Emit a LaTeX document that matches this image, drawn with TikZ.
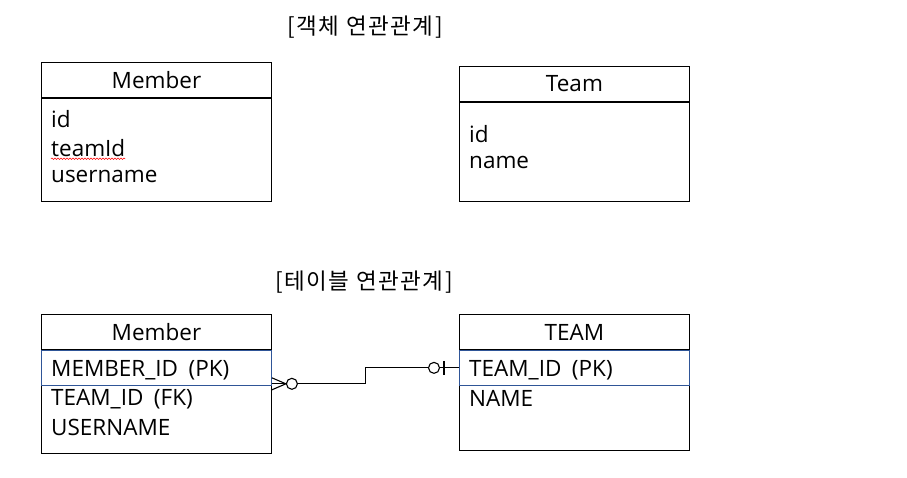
\documentclass[tikz,border=0pt]{standalone}
\usepackage{fontspec}
\setmainfont{Open Sans}[WordSpace=1.8]
\newfontfamily\krfont{Noto Sans CJK KR}[LetterSpace=7]
\usepackage{tikz}
\usetikzlibrary{positioning,calc,decorations.pathmorphing}

\definecolor{rowblue}{HTML}{2F5597}

\begin{document}
\begin{tikzpicture}[
    x=1pt, y=-1pt,
    node distance=0pt,
    head/.style={draw, line width=0.9pt, minimum width=230pt, minimum height=35pt, inner sep=0pt, font=\fontsize{22.5}{26}\selectfont},
    body/.style={draw, line width=0.9pt, minimum width=230pt, inner sep=0pt},
    pkrow/.style={draw=rowblue, line width=0.9pt, minimum width=230pt, minimum height=35pt, inner sep=0pt},
    field/.style={anchor=west, inner sep=0pt, font=\fontsize{22.5}{26}\selectfont},
    title/.style={inner sep=0pt, font=\krfont\fontsize{22.5}{26}\selectfont},
    rel/.style={line width=1.1pt}
  ]
    \useasboundingbox (0,0) rectangle (907,477);

    % object model
    \node[title] (objtitle) at (365,27) {[객체 연관관계]};
    \node[head, anchor=north west] (objmemberhead) at (41,62) {Member};
    \node[body, minimum height=103pt, below=of objmemberhead] (objmemberbody) {};
    \node[field] (objmemberid) at ([xshift=10pt,yshift=-21pt]objmemberbody.north west) {id};
    \node[field] (objmemberteam) at ([yshift=-29pt]objmemberid.west) {teamId};
    \node[field] (objmembername) at ([yshift=-29pt]objmemberteam.west) {username};
    \draw[red, line width=0.5pt, decorate, decoration={snake, segment length=3pt, amplitude=0.8pt}]
      ([yshift=-2pt]objmemberteam.south west) -- ([yshift=-2pt]objmemberteam.south east);

    \node[head, anchor=north west] (objteamhead) at (459,66) {Team};
    \node[body, minimum height=99pt, below=of objteamhead] (objteambody) {};
    \node[field] (objteamid) at ([xshift=10pt,yshift=-32pt]objteambody.north west) {id};
    \node[field] (objteamname) at ([yshift=-29pt]objteamid.west) {name};

    % table model
    \node[title] (tbltitle) at (364,282) {[테이블 연관관계]};
    \node[head, anchor=north west] (tblmemberhead) at (41,314) {Member};
    \node[body, minimum height=103pt, below=of tblmemberhead] (tblmemberbody) {};
    \node[pkrow, below=of tblmemberhead] (tblmemberpk) {};
    \node[field] (tblmemberid) at ([xshift=10pt,yshift=-2pt]tblmemberpk.west) {MEMBER\_ID (PK)};
    \node[field] (tblmemberteam) at ([yshift=-29pt]tblmemberid.west) {TEAM\_ID (FK)};
    \node[field] (tblmembername) at ([yshift=-29pt]tblmemberteam.west) {USERNAME};

    \node[head, anchor=north west] (tblteamhead) at (459,314) {TEAM};
    \node[body, minimum height=100pt, below=of tblteamhead] (tblteambody) {};
    \node[pkrow, below=of tblteamhead] (tblteampk) {};
    \node[field] (tblteamid) at ([xshift=10pt,yshift=-2pt]tblteampk.west) {TEAM\_ID (PK)};
    \node[field] (tblteamname) at ([yshift=-29pt]tblteamid.west) {NAME};

    % relation: many members to one team
    \coordinate (manyend) at ([yshift=2pt]tblmemberpk.south east);
    \coordinate (oneend) at (tblteampk.west);
    \coordinate (bend) at ($(manyend)!0.5!(oneend)$);
    \draw[rel] ([yshift=6pt]manyend) -- ([xshift=14pt]manyend) -- ([yshift=-6pt]manyend);
    \draw[rel] (manyend) -- ([xshift=14pt]manyend);
    \draw[rel] ([xshift=20pt]manyend) circle[radius=5.5pt];
    \draw[rel] ([xshift=25.5pt]manyend) -| (bend) |- ([xshift=-30.5pt]oneend);
    \draw[rel] ([xshift=-25pt]oneend) circle[radius=5.5pt];
    \draw[rel] ([xshift=-19.5pt]oneend) -- (oneend);
    \draw[rel] ([xshift=-15pt,yshift=7pt]oneend) -- ([xshift=-15pt,yshift=-7pt]oneend);
  \end{tikzpicture}
\end{document}
